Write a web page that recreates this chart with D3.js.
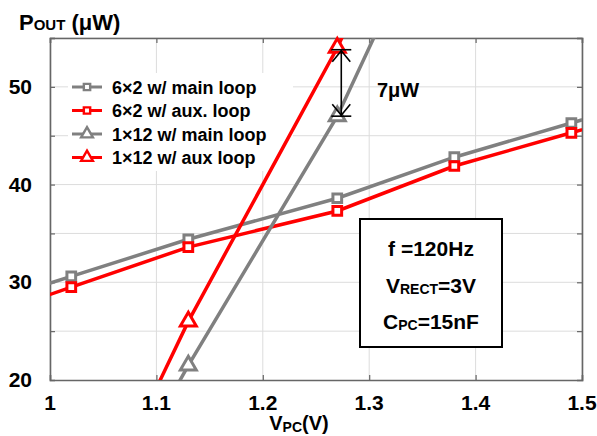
<!DOCTYPE html>
<html>
<head>
<meta charset="utf-8">
<script src="https://cdn.jsdelivr.net/npm/d3@7"></script>
<style>
  body { margin: 0; background: #fff; }
  text { font-family: "Liberation Sans", Arial, sans-serif; font-weight: bold; fill: #000; }
</style>
</head>
<body>
<div id="chart"></div>
<script>
// datos
const vpc6x2 = [0.9, 1.02, 1.13, 1.27, 1.38, 1.49, 1.6]
const main6x2 = [26.5, 30.6, 34.4, 38.6, 42.8, 46.3, 49.8]
const aux6x2 = [25.0, 29.5, 33.6, 37.3, 41.9, 45.3, 48.7]
const vpc1x12 = [1.02, 1.13, 1.27, 1.38]
const main1x12 = [0, 21.5, 47, 72.7]
const aux1x12 = [1, 26.0, 54, 80]
const seriesNames = ["6×2 w/ main loop", "6×2 w/ aux. loop", "1×12 w/ main loop", "1×12 w/ aux loop"]
const xTicks = [1, 1.1, 1.2, 1.3, 1.4, 1.5]
const yTicks = [20, 30, 40, 50]
const yGrid = [25, 30, 35, 40, 45, 50, 55]

const width = 597
const height = 436
const margin = { top: 38, right: 15, bottom: 56, left: 50 }

const gray = "#808080"
const red = "#ff0000"

const series = [
  { name: seriesNames[0], xs: vpc6x2, ys: main6x2, color: gray, shape: "square" },
  { name: seriesNames[1], xs: vpc6x2, ys: aux6x2, color: red, shape: "square" },
  { name: seriesNames[2], xs: vpc1x12, ys: main1x12, color: gray, shape: "triangle" },
  { name: seriesNames[3], xs: vpc1x12, ys: aux1x12, color: red, shape: "triangle" }
]

const svg = d3.select("#chart").append("svg").attr("width", width).attr("height", height)

const x = d3.scaleLinear().domain([1, 1.5]).range([margin.left, width - margin.right])
const y = d3.scaleLinear().domain([20, 55]).range([height - margin.bottom, margin.top])

const x0 = x.range()[0], x1 = x.range()[1], y0 = y.range()[0], y1 = y.range()[1]

// clips
const defs = svg.append("defs")
defs.append("clipPath").attr("id", "clipPlot").append("rect")
  .attr("x", x0).attr("y", y1).attr("width", x1 - x0).attr("height", y0 - y1)
defs.append("clipPath").attr("id", "clipMarks").append("rect")
  .attr("x", x0 - 10).attr("y", y1 - 10).attr("width", x1 - x0 + 20).attr("height", y0 - y1 + 20)

// grid
const grid = svg.append("g")
grid.selectAll(".vg").data(xTicks).enter().append("line")
  .attr("x1", d => x(d)).attr("x2", d => x(d)).attr("y1", y1).attr("y2", y0)
  .attr("stroke", "#dcdcdc").attr("stroke-width", 1)
grid.selectAll(".hg").data(yGrid).enter().append("line")
  .attr("x1", x0).attr("x2", x1).attr("y1", d => y(d)).attr("y2", d => y(d))
  .attr("stroke", "#dcdcdc").attr("stroke-width", 1)

// fondo de la leyenda (tapa la rejilla, no las curvas)
svg.append("rect").attr("x", 68).attr("y", 73).attr("width", 225).attr("height", 98).attr("fill", "#fff")

// ejes (ticks hacia dentro en los cuatro lados)
const axisGroup = svg.append("g")
const xAxis = d3.axisBottom(x).tickValues(xTicks).tickSize(-5).tickFormat("")
const xAxisTop = d3.axisTop(x).tickValues(xTicks).tickSize(-5).tickFormat("")
const yAxis = d3.axisLeft(y).tickValues(yGrid).tickSize(-5).tickFormat("")
const yAxisRight = d3.axisRight(y).tickValues(yGrid).tickSize(-5).tickFormat("")
axisGroup.append("g").attr("transform", `translate(0,${y0})`).call(xAxis)
axisGroup.append("g").attr("transform", `translate(0,${y1})`).call(xAxisTop)
axisGroup.append("g").attr("transform", `translate(${x0},0)`).call(yAxis)
axisGroup.append("g").attr("transform", `translate(${x1},0)`).call(yAxisRight)
axisGroup.selectAll(".domain").attr("stroke", "#666").attr("stroke-width", 1.6)
axisGroup.selectAll(".tick line").attr("stroke", "#666").attr("stroke-width", 1.2)

// etiquetas de ticks
svg.selectAll(".xlab").data(xTicks).enter().append("text")
  .attr("x", d => x(d)).attr("y", y0 + 30).attr("text-anchor", "middle")
  .style("font-size", "21px").text(d => d)
svg.selectAll(".ylab").data(yTicks).enter().append("text")
  .attr("x", 32).attr("y", d => y(d) + 7).attr("text-anchor", "end")
  .style("font-size", "21px").text(d => d)

// títulos
const yTitle = svg.append("text").attr("x", 19).attr("y", 30).style("font-size", "22px")
yTitle.append("tspan").text("P")
yTitle.append("tspan").style("font-size", "15px").text("OUT")
yTitle.append("tspan").text(" (μW)")

const xTitle = svg.append("text").attr("x", 299).attr("y", 430).attr("text-anchor", "middle").style("font-size", "20px")
xTitle.append("tspan").text("V")
xTitle.append("tspan").style("font-size", "14px").attr("dy", 2).text("PC")
xTitle.append("tspan").attr("dy", -2).text("(V)")

// líneas
const line = d3.line().x(d => x(d[0])).y(d => y(d[1]))
const plot = svg.append("g").attr("clip-path", "url(#clipPlot)")
const marks = svg.append("g").attr("clip-path", "url(#clipMarks)")

function symbolPath(shape) {
  return shape === "square"
    ? d3.symbol().type(d3.symbolSquare).size(76)()
    : d3.symbol().type(d3.symbolTriangle).size(110)()
}

series.forEach(s => {
  const pts = s.xs.map((v, i) => [v, s.ys[i]])
  plot.append("path").datum(pts).attr("d", line)
    .attr("fill", "none").attr("stroke", s.color).attr("stroke-width", 3.5)
  marks.selectAll(null).data(pts).enter().append("path")
    .attr("d", symbolPath(s.shape))
    .attr("transform", d => `translate(${x(d[0])},${y(d[1])})`)
    .attr("fill", "#fff").attr("stroke", s.color).attr("stroke-width", 3)
})

// leyenda
const legend = svg.append("g")
series.forEach((s, i) => {
  const ly = 87 + i * 23.5
  legend.append("line").attr("x1", 72).attr("x2", 102).attr("y1", ly).attr("y2", ly)
    .attr("stroke", s.color).attr("stroke-width", 3)
  legend.append("path").attr("d", s.shape === "square" ? d3.symbol().type(d3.symbolSquare).size(40)() : d3.symbol().type(d3.symbolTriangle).size(60)())
    .attr("transform", `translate(87,${ly})`)
    .attr("fill", "#fff").attr("stroke", s.color).attr("stroke-width", 2.4)
  legend.append("text").attr("x", 112).attr("y", ly + 6.5).style("font-size", "18px").text(s.name)
})

// flecha 7μW
const ax = x(1.27) + 4
const yTop = y(aux1x12[2] - 0.2), yBot = y(main1x12[2])
const arrow = svg.append("g").attr("stroke", "#000").attr("stroke-width", 1.6).attr("fill", "none")
arrow.append("line").attr("x1", ax).attr("x2", ax).attr("y1", yTop).attr("y2", yBot)
arrow.append("line").attr("x1", ax - 10).attr("x2", ax + 10).attr("y1", yTop).attr("y2", yTop)
arrow.append("line").attr("x1", ax - 10).attr("x2", ax + 10).attr("y1", yBot).attr("y2", yBot)
arrow.append("path").attr("d", `M${ax - 9},${yTop + 12}L${ax},${yTop + 1}L${ax + 9},${yTop + 12}`)
arrow.append("path").attr("d", `M${ax - 9},${yBot - 12}L${ax},${yBot - 1}L${ax + 9},${yBot - 12}`)
svg.append("text").attr("x", 377).attr("y", 97).style("font-size", "20px").text("7μW")

// cuadro de condiciones
const box = svg.append("g")
box.append("rect").attr("x", 360).attr("y", 219).attr("width", 142).attr("height", 128)
  .attr("fill", "#fff").attr("stroke", "#000").attr("stroke-width", 2)
const t1 = box.append("text").attr("x", 431).attr("y", 256).attr("text-anchor", "middle").style("font-size", "21px")
t1.text("f =120Hz")
const t2 = box.append("text").attr("x", 431).attr("y", 293).attr("text-anchor", "middle").style("font-size", "21px")
t2.append("tspan").text("V")
t2.append("tspan").style("font-size", "14px").attr("dy", 1).text("RECT")
t2.append("tspan").attr("dy", -1).text("=3V")
const t3 = box.append("text").attr("x", 431).attr("y", 329).attr("text-anchor", "middle").style("font-size", "21px")
t3.append("tspan").text("C")
t3.append("tspan").style("font-size", "14px").attr("dy", 1).text("PC")
t3.append("tspan").attr("dy", -1).text("=15nF")
</script>
</body>
</html>
